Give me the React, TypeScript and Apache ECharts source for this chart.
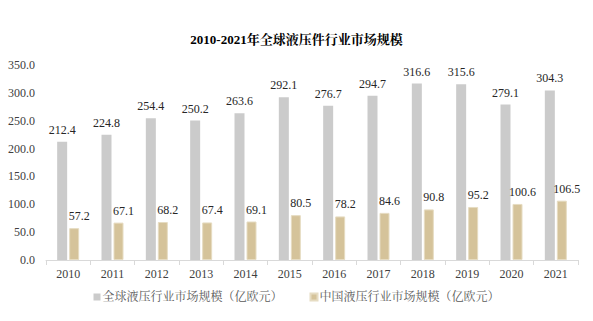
import React, { useEffect, useRef } from "react";
import * as echarts from "echarts";

const years = ["2010","2011","2012","2013","2014","2015","2016","2017","2018","2019","2020","2021"];
const globalValues = [212.4, 224.8, 254.4, 250.2, 263.6, 292.1, 276.7, 294.7, 316.6, 315.6, 279.1, 304.3];
const chinaValues = [57.2, 67.1, 68.2, 67.4, 69.1, 80.5, 78.2, 84.6, 90.8, 95.2, 100.6, 106.5];
const seriesNames = ["全球液压行业市场规模（亿欧元）", "中国液压行业市场规模（亿欧元）"];
const titleText = "2010-2021年全球液压件行业市场规模";

const serif = "'Liberation Serif', 'Times New Roman', 'Noto Serif CJK SC', 'Noto Sans CJK SC', serif";

export default function App() {
  const ref = useRef<HTMLDivElement>(null);
  useEffect(() => {
    if (!ref.current) return;
    const chart = echarts.init(ref.current, undefined, { renderer: "svg" });
    chart.setOption({
      animation: false,
      backgroundColor: "#ffffff",
      title: {
        text: titleText,
        left: "center",
        top: 28,
        textStyle: { fontFamily: serif, fontSize: 13, fontWeight: "bold", color: "#000" },
      },
      legend: {
        bottom: 13,
        left: "center",
        itemGap: 27,
        itemWidth: 7,
        itemHeight: 7,
        icon: "rect",
        textStyle: { fontFamily: serif, fontSize: 12, color: "#595959", padding: [0, 0, 0, -3] },
        data: seriesNames,
      },
      grid: { left: 46, right: 15, top: 65, bottom: 61, containLabel: false },
      xAxis: {
        type: "category",
        data: years,
        axisLine: { show: true, lineStyle: { color: "#d9d9d9" } },
        axisTick: { show: true, lineStyle: { color: "#d9d9d9" } },
        axisLabel: { fontFamily: serif, fontSize: 12, color: "#404040", margin: 8 },
      },
      yAxis: {
        type: "value",
        min: 0,
        max: 350,
        interval: 50,
        axisLine: { show: false },
        axisTick: { show: false },
        splitLine: { show: false },
        axisLabel: {
          fontFamily: serif,
          fontSize: 12,
          color: "#404040",
          margin: 11,
          formatter: (v: number) => v.toFixed(1),
        },
      },
      series: [
        {
          name: seriesNames[0],
          type: "bar",
          data: globalValues,
          barWidth: 10,
          barGap: "20%",
          itemStyle: { color: "#cbcbcb" },
          label: {
            show: true,
            position: "top",
            distance: 6,
            fontFamily: serif,
            fontSize: 12,
            color: "#262626",
            formatter: (p: any) => Number(p.value).toFixed(1),
          },
        },
        {
          name: seriesNames[1],
          type: "bar",
          data: chinaValues,
          barWidth: 10,
          itemStyle: { color: "#d5c39a", borderColor: "#e6dcc2", borderWidth: 1 },
          label: {
            show: true,
            position: "top",
            distance: 6,
            offset: [5, 0],
            fontFamily: serif,
            fontSize: 12,
            color: "#262626",
            formatter: (p: any) => Number(p.value).toFixed(1),
          },
        },
      ],
    });
    return () => chart.dispose();
  }, []);
  return <div ref={ref} style={{ position: "fixed", left: 0, top: 0, width: 593, height: 321 }} />;
}
